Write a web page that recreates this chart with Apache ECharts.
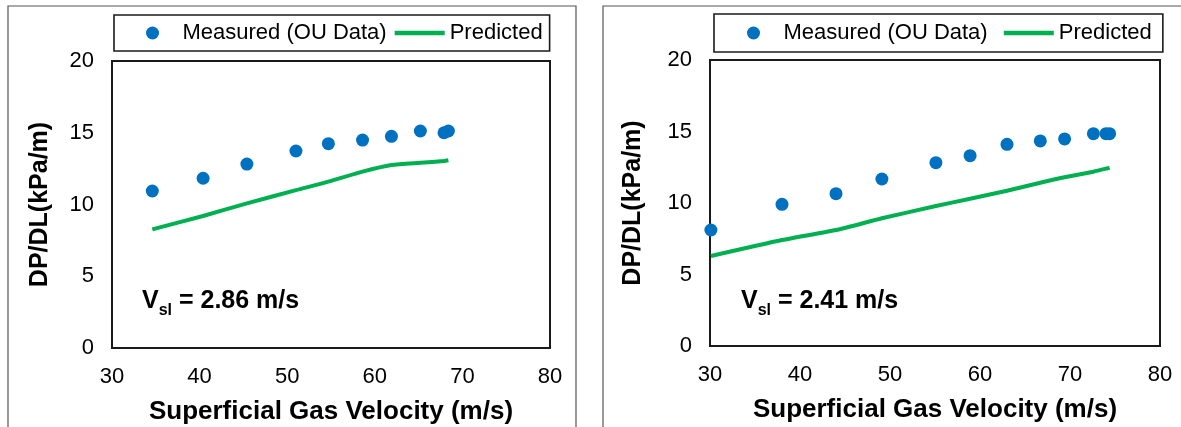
<!DOCTYPE html>
<html lang="en">
<head>
    <meta charset="UTF-8">
    <title>DP/DL vs Superficial Gas Velocity</title>
    <script src="https://cdn.jsdelivr.net/npm/echarts@6/dist/echarts.min.js"></script>
    <style>
        html, body { margin: 0; padding: 0; background: #fff; overflow: hidden; }
        #main { width: 1181px; height: 427px; }
    </style>
</head>
<body>
<div id="main"></div>
<script>
    // left panel, Vsl = 2.86 m/s
    var vgLeft = [34.6, 40.4, 45.4, 51.0, 54.7, 58.6, 61.9, 65.2, 67.9, 68.4];
    var measuredLeft = [10.94, 11.83, 12.82, 13.73, 14.24, 14.49, 14.75, 15.12, 15.0, 15.12];
    var predictedLeft = [8.27, 9.2, 10.08, 11.0, 11.59, 12.29, 12.75, 12.91, 13.03, 13.08];

    // right panel, Vsl = 2.41 m/s
    var vgRight = [30.1, 38.0, 44.0, 49.1, 55.1, 58.9, 63.0, 66.7, 69.4, 72.6, 74.0, 74.4];
    var measuredRight = [8.11, 9.91, 10.65, 11.68, 12.82, 13.31, 14.1, 14.34, 14.48, 14.85, 14.85, 14.85];
    var predictedRight = [6.29, 7.41, 8.11, 8.93, 9.79, 10.3, 10.86, 11.42, 11.8, 12.19, 12.4, 12.47];

    var xTicks = [30, 40, 50, 60, 70, 80];
    var yTicks = [0, 5, 10, 15, 20];
    var legendNames = ['Measured (OU Data)', 'Predicted'];
    var vslLabels = ['2.86', '2.41'];

    function pairs(xs, ys) {
        var out = [];
        for (var i = 0; i < xs.length; i++) {
            out.push([xs[i], ys[i]]);
        }
        return out;
    }

    var font = 'Liberation Sans, Arial, sans-serif';
    var blue = '#0070C0';
    var green = '#00B050';

    function xAxisFor(idx) {
        return {
            gridIndex: idx,
            type: 'value',
            min: xTicks[0],
            max: xTicks[xTicks.length - 1],
            interval: 10,
            name: 'Superficial Gas Velocity (m/s)',
            nameLocation: 'middle',
            nameGap: 51,
            nameTextStyle: { fontFamily: font, fontSize: 26, fontWeight: 'bold', color: '#000' },
            axisLine: { show: false },
            axisTick: { show: false },
            splitLine: { show: false },
            axisLabel: { margin: 18, fontFamily: font, fontSize: 22, color: '#000' }
        };
    }

    function yAxisFor(idx, gap) {
        return {
            gridIndex: idx,
            type: 'value',
            min: yTicks[0],
            max: yTicks[yTicks.length - 1],
            interval: 5,
            name: 'DP/DL(kPa/m)',
            nameLocation: 'middle',
            nameGap: gap,
            nameTextStyle: { fontFamily: font, fontSize: 25, fontWeight: 'bold', color: '#000' },
            axisLine: { show: false },
            axisTick: { show: false },
            splitLine: { show: false },
            axisLabel: { margin: 18, fontFamily: font, fontSize: 22, color: '#000' }
        };
    }

    function legendFor(idx, left, top, padding, gap) {
        var suffix = idx ? ' ' : '';
        return {
            seriesIndex: [idx * 2, idx * 2 + 1],
            data: [
                { name: legendNames[0] + suffix, icon: 'circle' },
                { name: legendNames[1] + suffix, icon: 'path://M0,0 L50,0 L50,4.5 L0,4.5 Z' }
            ],
            left: left,
            top: top,
            width: 460,
            orient: 'horizontal',
            itemWidth: 50,
            itemHeight: 13,
            itemGap: gap,
            padding: padding,
            borderColor: '#1a1a1a',
            borderWidth: 1.6,
            borderRadius: 0,
            selectedMode: false,
            textStyle: { fontFamily: font, fontSize: 22, color: '#000' }
        };
    }

    function vslTitle(idx, left, top) {
        return {
            left: left,
            top: top,
            padding: 0,
            text: '{v|V}{s|sl}{v| = ' + vslLabels[idx] + ' m/s}',
            textStyle: {
                rich: {
                    v: { fontFamily: font, fontSize: 25, fontWeight: 'bold', color: '#000', lineHeight: 36 },
                    s: { fontFamily: font, fontSize: 16, fontWeight: 'bold', color: '#000', lineHeight: 10, verticalAlign: 'bottom' }
                }
            }
        };
    }

    var myCharts = echarts.init(document.getElementById('main'), null, { renderer: 'canvas' });
    var option = {
        backgroundColor: '#fff',
        animation: false,
        graphic: [
            { type: 'rect', shape: { x: 8, y: 6, width: 568, height: 440 }, style: { fill: 'none', stroke: '#555', lineWidth: 1.2 } },
            { type: 'rect', shape: { x: 603, y: 6, width: 600, height: 440 }, style: { fill: 'none', stroke: '#555', lineWidth: 1.2 } }
        ],
        title: [vslTitle(0, 142, 283), vslTitle(1, 741, 283)],
        legend: [
            legendFor(0, 114, 15, [7, 7, 7, 32], 8),
            legendFor(1, 714, 14, [8, 5, 8, 33], 10)
        ],
        grid: [
            { left: 112, right: 631, top: 61, bottom: 79, outerBoundsMode: 'none', containLabel: false, show: true, borderColor: '#1a1a1a', borderWidth: 2, backgroundColor: 'transparent' },
            { left: 710, right: 21, top: 60, bottom: 81, outerBoundsMode: 'none', containLabel: false, show: true, borderColor: '#1a1a1a', borderWidth: 2, backgroundColor: 'transparent' }
        ],
        xAxis: [xAxisFor(0), xAxisFor(1)],
        yAxis: [yAxisFor(0, 59), yAxisFor(1, 64)],
        series: [
            {
                name: legendNames[0], type: 'scatter', xAxisIndex: 0, yAxisIndex: 0,
                data: pairs(vgLeft, measuredLeft), symbol: 'circle', symbolSize: 13,
                itemStyle: { color: blue, opacity: 1 }
            },
            {
                name: legendNames[1], type: 'line', xAxisIndex: 0, yAxisIndex: 0,
                data: pairs(vgLeft, predictedLeft), showSymbol: false, symbol: 'none', smooth: 0.2,
                lineStyle: { color: green, width: 4 }, itemStyle: { color: green }
            },
            {
                name: legendNames[0] + ' ', type: 'scatter', xAxisIndex: 1, yAxisIndex: 1,
                data: pairs(vgRight, measuredRight), symbol: 'circle', symbolSize: 13,
                itemStyle: { color: blue, opacity: 1 }
            },
            {
                name: legendNames[1] + ' ', type: 'line', xAxisIndex: 1, yAxisIndex: 1,
                data: pairs(vgRight, predictedRight), showSymbol: false, symbol: 'none', smooth: 0.2,
                lineStyle: { color: green, width: 4 }, itemStyle: { color: green }
            }
        ]
    };
    myCharts.setOption(option);
</script>
</body>
</html>
